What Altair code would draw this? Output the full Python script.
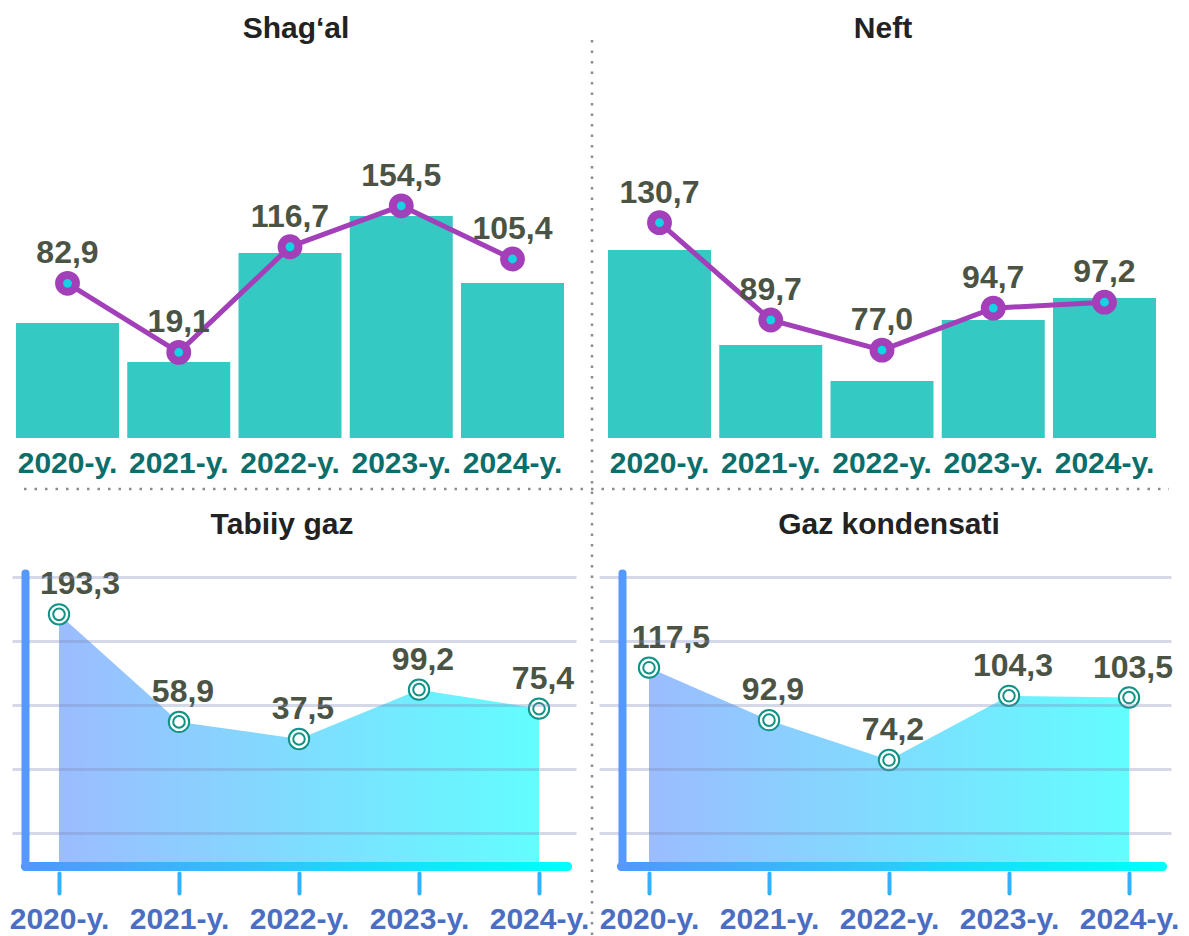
import altair as alt
import pandas as pd

# ---------------- data ----------------
years = [2020, 2021, 2022, 2023, 2024]
year_labels = [f"{y}-y." for y in years]
titles = ["Shag‘al", "Neft", "Tabiiy gaz", "Gaz kondensati"]

shagal_values = [82.9, 19.1, 116.7, 154.5, 105.4]
shagal_bars = [62.5, 41.3, 100.5, 120.7, 84.2]      # unlabeled bar series
neft_values = [130.7, 89.7, 77.0, 94.7, 97.2]
neft_bars = [102.2, 50.5, 31.0, 64.1, 76.1]          # unlabeled bar series
gaz_values = [193.3, 58.9, 37.5, 99.2, 75.4]
kond_values = [117.5, 92.9, 74.2, 104.3, 103.5]


def fmt(v):
    return f"{v:.1f}".replace(".", ",")


FONT = "Liberation Sans"
PURPLE = "#a23fb9"
CYAN = "#14d3e3"
BAR = "#34c9c3"
VALUE_COLOR = "#4b5444"
TEAL = "#0e9384"

TW, TH = 556, 368
BH = 293


def one_row(title):
    return alt.Chart(pd.DataFrame({"t": [title]}))


def top_panel(title, values, bars, line_domain, title_x, separators=False):
    df = pd.DataFrame({"year": year_labels, "value": values, "bar": bars,
                       "label": [fmt(v) for v in values]})
    base = alt.Chart(df)
    xscale = alt.Scale(paddingInner=0.074, paddingOuter=0.036)
    xenc = alt.X("year:N", sort=year_labels, scale=xscale,
                 axis=alt.Axis(title=None, labelAngle=0, labelFontSize=30, labelFont=FONT,
                               labelFontWeight="bold", labelColor="#0b6e6a", ticks=False,
                               domain=False, labelPadding=10, grid=False))
    xplain = alt.X("year:N", sort=year_labels, scale=xscale)
    yline = alt.Y("value:Q", scale=alt.Scale(domain=line_domain, zero=False, nice=False), axis=None)
    bars_l = base.mark_bar(color=BAR).encode(
        x=xenc, y=alt.Y("bar:Q", scale=alt.Scale(domain=[0, 200], nice=False), axis=None))
    line = base.mark_line(color=PURPLE, strokeWidth=5).encode(x=xplain, y=yline)
    pts = base.mark_point(shape="circle", filled=True, size=284, color=CYAN, stroke=PURPLE,
                          strokeWidth=8, opacity=1).encode(x=xplain, y=yline)
    txt = base.mark_text(dy=-20, baseline="alphabetic", fontSize=32, fontWeight="bold",
                         font=FONT, color=VALUE_COLOR).encode(x=xplain, y=yline, text="label:N")
    ttl = one_row(title).mark_text(fontSize=30, fontWeight="bold", font=FONT, color="#222222",
                                   baseline="alphabetic").encode(
        x=alt.value(title_x), y=alt.value(-32), text="t:N")
    layers = [bars_l, line, pts, txt, ttl]
    if separators:
        dot = dict(color="#8c8c8c", strokeWidth=2.5, strokeDash=[2.5, 8])
        layers.append(one_row("v").mark_rule(**dot).encode(
            x=alt.value(580), y=alt.value(-30), y2=alt.value(866)))
        layers.append(one_row("h").mark_rule(**dot).encode(
            y=alt.value(419), x=alt.value(12), x2=alt.value(1157)))
    return alt.layer(*layers).resolve_scale(y="independent").properties(width=TW, height=TH)


def bottom_panel(title, values, ydomain, grid_values, xdomain, width, axis_offset,
                 bar_x0, bar_x1, title_x, first_dx):
    df = pd.DataFrame({"year": years, "value": values, "label": [fmt(v) for v in values]})
    base = alt.Chart(df)
    xscale = alt.Scale(domain=xdomain, nice=False, zero=False)
    yscale = alt.Scale(domain=ydomain, nice=False, zero=False)
    xaxis = alt.Axis(values=years, labelExpr="datum.value + '-y.'", title=None, grid=False,
                     domain=False, ticks=True, tickColor="#2fb2ff", tickWidth=4, tickSize=20,
                     tickCap="round", offset=7, labelFontSize=30, labelFont=FONT,
                     labelFontWeight="bold", labelColor="#4a6ec2", labelPadding=11,
                     labelOverlap=False, labelFlush=False)
    yaxis = alt.Axis(values=grid_values, grid=True, gridColor="#7f89b5", gridOpacity=0.33,
                     gridWidth=3, labels=False, ticks=False, domain=True,
                     domainColor="#5599ff", domainWidth=8, domainCap="round",
                     offset=axis_offset, zindex=1, title=None)
    xp = alt.X("year:Q", scale=xscale)
    yp = alt.Y("value:Q", scale=yscale)
    area = base.mark_area(
        color=alt.Gradient(gradient="linear",
                           stops=[alt.GradientStop(color="#9cbcff", offset=0),
                                  alt.GradientStop(color="#62fdff", offset=1)],
                           x1=0, x2=1, y1=0, y2=0),
        opacity=1).encode(x=alt.X("year:Q", scale=xscale, axis=xaxis),
                          y=alt.Y("value:Q", scale=yscale, axis=yaxis),
                          y2=alt.datum(ydomain[0]))
    bar = one_row("bar").mark_rect(
        color=alt.Gradient(gradient="linear",
                           stops=[alt.GradientStop(color="#4f97ff", offset=0),
                                  alt.GradientStop(color="#00ffff", offset=1)],
                           x1=0, x2=1, y1=0, y2=0),
        cornerRadius=4).encode(x=alt.value(bar_x0), x2=alt.value(bar_x1),
                               y=alt.value(BH - 4), y2=alt.value(BH + 5))
    outer = base.mark_point(shape="circle", filled=True, color="white", stroke=TEAL,
                            strokeWidth=2, size=415, opacity=1).encode(x=xp, y=yp)
    inner = base.mark_point(shape="circle", filled=False, color=TEAL, strokeWidth=2,
                            size=133, opacity=1).encode(x=xp, y=yp)
    tstyle = dict(dy=-20, baseline="alphabetic", fontSize=32, fontWeight="bold",
                  font=FONT, color=VALUE_COLOR)
    txt_first = base.transform_filter(alt.datum.year == years[0]).mark_text(
        dx=first_dx, **tstyle).encode(x=xp, y=yp, text="label:N")
    txt_rest = base.transform_filter(alt.datum.year != years[0]).mark_text(
        dx=4, **tstyle).encode(x=xp, y=yp, text="label:N")
    ttl = one_row(title).mark_text(fontSize=30, fontWeight="bold", font=FONT, color="#222222",
                                   baseline="alphabetic").encode(
        x=alt.value(title_x), y=alt.value(-39), text="t:N")
    return alt.layer(area, bar, outer, inner, txt_first, txt_rest, ttl).properties(
        width=width, height=BH)


p1 = top_panel(titles[0], shagal_values, shagal_bars, [-60, 280], 284, separators=True)
p2 = top_panel(titles[1], neft_values, neft_bars, [40, 195], 279)
p3 = bottom_panel(titles[2], gaz_values, [-121.25, 245], [-80, 0, 80, 160, 240],
                  [2019.6083, 2024.3083], 564, -13, 9, 560, 270, 21)
p4 = bottom_panel(titles[3], kond_values, [24.5, 161.9], [40, 70, 100, 130, 160],
                  [2019.5833, 2024.35], 572, -23, 18, 568, 290, 22)

top = alt.hconcat(p1, p2, spacing=36, bounds="flush")
bottom = alt.hconcat(p3, p4, spacing=23, bounds="flush")
chart = alt.vconcat(top, bottom, spacing=503, bounds="flush").properties(
    padding={"left": 1, "top": 6, "right": 0, "bottom": 0}
).configure_view(stroke=None)

chart.save("out.html", embed_options={"renderer": "svg", "actions": False})
